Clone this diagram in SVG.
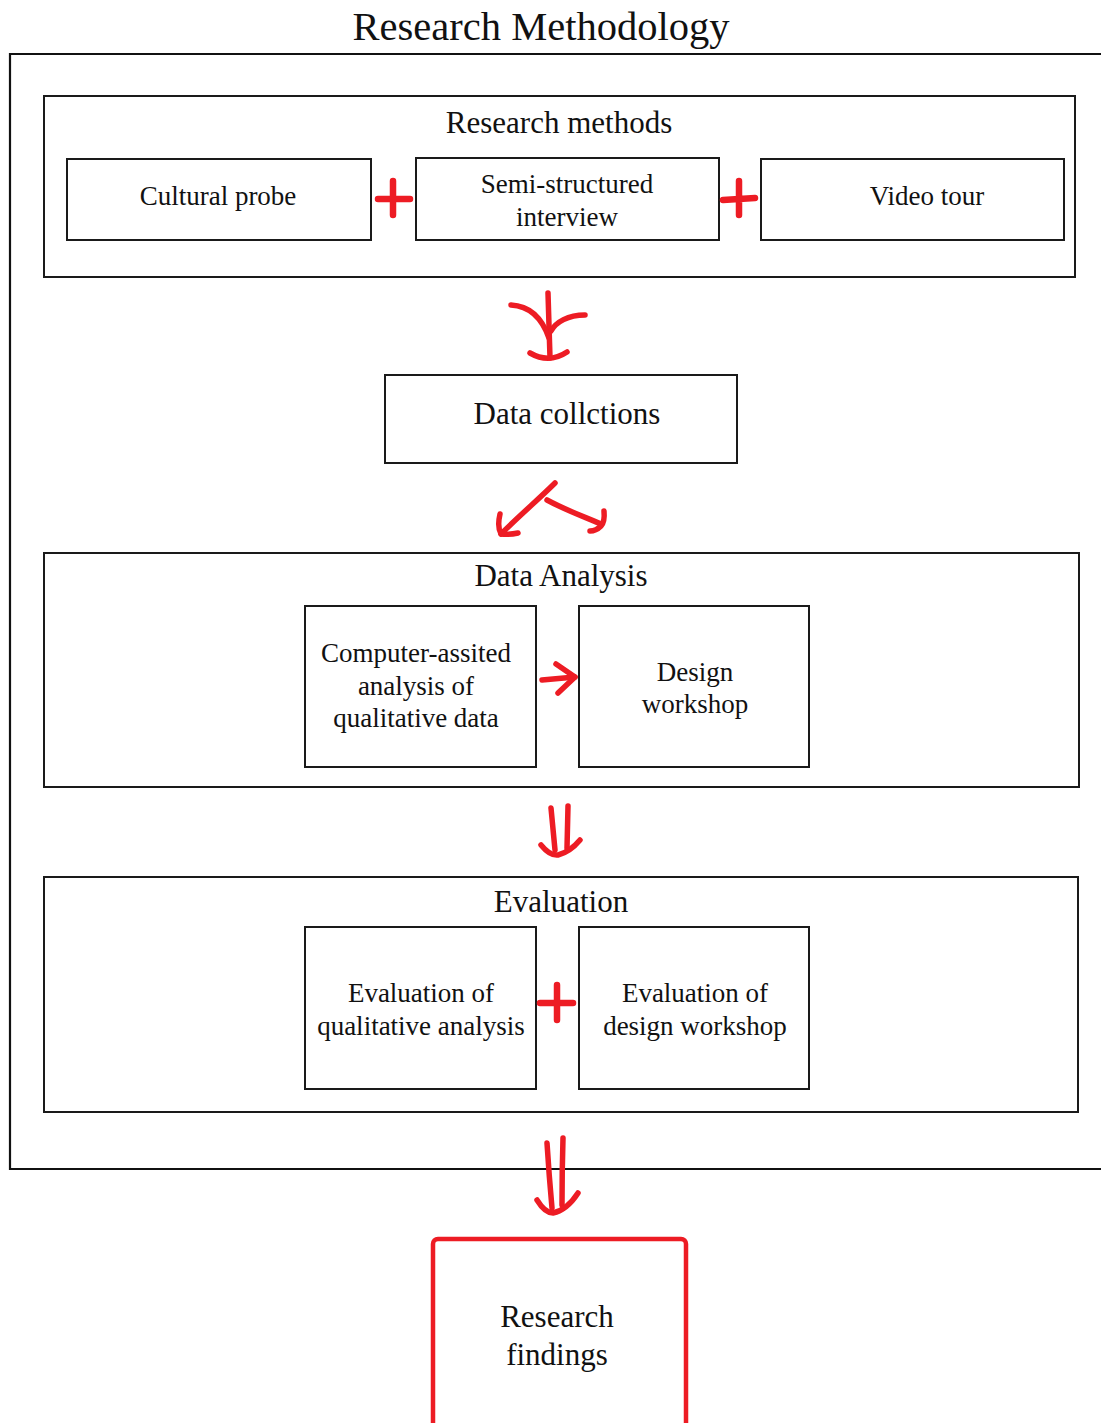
<svg xmlns="http://www.w3.org/2000/svg" width="1101" height="1423" viewBox="0 0 1101 1423">
  <style>
    .box { fill: #ffffff; stroke: #1a1a1a; stroke-width: 2; }
    .frame { fill: none; stroke: #111111; stroke-width: 2.2; }
    .t { font-family: "Liberation Serif", "Times New Roman", serif; fill: #111111; text-anchor: middle; }
    .title { font-size: 40.5px; }
    .head { font-size: 31px; }
    .body { font-size: 27px; }
    .red { fill: none; stroke: #ed1c24; stroke-width: 5.5; stroke-linecap: round; stroke-linejoin: round; }
    .plus { stroke-width: 6.5; }
  </style>

  <rect width="1101" height="1423" fill="#ffffff"/>

  <!-- title and outer frame (open on the right) -->
  <g id="title">
    <text class="t title" x="541" y="40">Research Methodology</text>
  </g>
  <path class="frame" d="M1101 54 H10 V1169 H1101"/>

  <!-- Research methods group -->
  <g id="research-methods">
    <rect class="box" x="44" y="96" width="1031" height="181"/>
    <text class="t head" x="559" y="133">Research methods</text>
  </g>
  <g id="cultural-probe">
    <rect class="box" x="67" y="159" width="304" height="81"/>
    <text class="t body" x="218" y="205">Cultural probe</text>
  </g>
  <g id="semi-structured-interview">
    <rect class="box" x="416" y="158" width="303" height="82"/>
    <text class="t body" x="567" y="193">Semi-structured</text>
    <text class="t body" x="567" y="226">interview</text>
  </g>
  <g id="video-tour">
    <rect class="box" x="761" y="159" width="303" height="81"/>
    <text class="t body" x="927" y="205">Video tour</text>
  </g>

  <!-- Data collections -->
  <g id="data-collections">
    <rect class="box" x="385" y="375" width="352" height="88"/>
    <text class="t head" x="567" y="424">Data collctions</text>
  </g>

  <!-- Data Analysis group -->
  <g id="data-analysis">
    <rect class="box" x="44" y="553" width="1035" height="234"/>
    <text class="t head" x="561" y="586">Data Analysis</text>
  </g>
  <g id="caqda">
    <rect class="box" x="305" y="606" width="231" height="161"/>
    <text class="t body" x="416" y="662">Computer-assited</text>
    <text class="t body" x="416" y="695">analysis of</text>
    <text class="t body" x="416" y="727">qualitative data</text>
  </g>
  <g id="design-workshop">
    <rect class="box" x="579" y="606" width="230" height="161"/>
    <text class="t body" x="695" y="681">Design</text>
    <text class="t body" x="695" y="713">workshop</text>
  </g>

  <!-- Evaluation group -->
  <g id="evaluation">
    <rect class="box" x="44" y="877" width="1034" height="235"/>
    <text class="t head" x="561" y="912">Evaluation</text>
  </g>
  <g id="eval-qualitative">
    <rect class="box" x="305" y="927" width="231" height="162"/>
    <text class="t body" x="421" y="1002">Evaluation of</text>
    <text class="t body" x="421" y="1035">qualitative analysis</text>
  </g>
  <g id="eval-design">
    <rect class="box" x="579" y="927" width="230" height="162"/>
    <text class="t body" x="695" y="1002">Evaluation of</text>
    <text class="t body" x="695" y="1035">design workshop</text>
  </g>

  <!-- Research findings -->
  <g id="research-findings">
    <rect x="433" y="1239" width="253" height="220" rx="5" fill="#ffffff" stroke="#ed1c24" stroke-width="4.5"/>
    <text class="t head" x="557" y="1327">Research</text>
    <text class="t head" x="557" y="1365">findings</text>
  </g>

  <!-- hand-drawn red connectors -->
  <g id="connectors">
    <!-- plus signs -->
    <path class="red plus" d="M378 199 H410 M393 181 V215"/>
    <path class="red plus" d="M723 200 L755 198 M739 181 V215"/>
    <path class="red plus" d="M540 1003 H573 M557 985 V1020"/>

    <!-- merge arrow: methods to data collections -->
    <path class="red" d="M548 293 L550 358"/>
    <path class="red" d="M511 305 C530 306 542 318 549 338"/>
    <path class="red" d="M585 315 C568 315 556 322 551 331"/>
    <path class="red" d="M530 353 Q549 364 567 352"/>

    <!-- split arrow: data collections to analysis -->
    <path class="red" d="M555 483 C540 498 520 515 501 534"/>
    <path class="red" d="M500 514 Q497 527 501 534 Q509 535 518 533"/>
    <path class="red" d="M547 500 C565 510 585 517 601 524"/>
    <path class="red" d="M604 511 Q605 522 601 526 Q596 531 590 531"/>

    <!-- right arrow: CAQDA to design workshop -->
    <path class="red" d="M542 680 L575 677"/>
    <path class="red" d="M556 664 L575 677 L558 693"/>

    <!-- double arrow: analysis to evaluation -->
    <path class="red" d="M551 808 L555 850"/>
    <path class="red" d="M568 806 L567 848"/>
    <path class="red" d="M541 845 Q550 856 558 855 Q570 852 580 840"/>

    <!-- double arrow: evaluation to findings -->
    <path class="red" d="M547 1143 Q549 1175 552 1208"/>
    <path class="red" d="M563 1138 Q562 1170 562 1205"/>
    <path class="red" d="M537 1200 Q545 1213 553 1213 Q567 1210 578 1193"/>
  </g>
</svg>
